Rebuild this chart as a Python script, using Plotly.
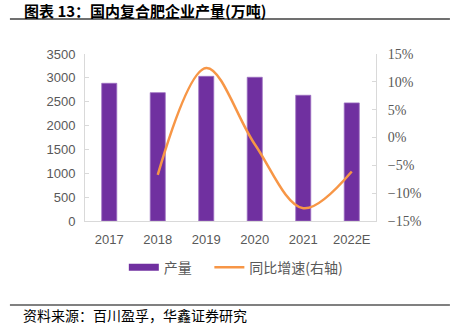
import plotly.graph_objects as go

years = ["2017", "2018", "2019", "2020", "2021", "2022E"]
output = [2886, 2690, 3032, 3012, 2635, 2475]
growth_years = ["2018", "2019", "2020", "2021", "2022E"]
growth = [-6.7, 12.5, -1.2, -12.7, -6.1]

bar_color = "#7030A0"
line_color = "#F79646"
tick_color = "#595959"
axis_color = "#D9D9D9"

fig = go.Figure()
fig.add_trace(go.Bar(
    x=years, y=output, name="产量", showlegend=False,
    marker=dict(color=bar_color, line=dict(color="#9C6FC0", width=0.8)),
    width=0.31, yaxis="y",
))
# legend proxy for bars (wide rectangle symbol)
fig.add_trace(go.Scatter(
    x=[None], y=[None], name="产量    ", mode="lines",
    line=dict(color=bar_color, width=7), yaxis="y",
))
fig.add_trace(go.Scatter(
    x=growth_years, y=growth, name="同比增速(右轴)", mode="lines",
    line=dict(color=line_color, width=2.5, shape="spline", smoothing=1.0),
    yaxis="y2",
))

fig.update_layout(
    width=450, height=325, autosize=False,
    margin=dict(l=85, r=74, t=54, b=104),
    paper_bgcolor="white", plot_bgcolor="white",
    showlegend=True,
    legend=dict(orientation="h", x=0.52, xanchor="center", y=-0.28, yanchor="middle",
                font=dict(family="Noto Sans CJK SC", size=14, color=tick_color),
                itemwidth=30, traceorder="normal"),
    xaxis=dict(type="category", showline=True, linecolor=axis_color, linewidth=1,
               ticks="", showgrid=False, ticklabelstandoff=6,
               tickfont=dict(family="Liberation Sans, Arial", size=13, color=tick_color)),
    yaxis=dict(range=[0, 3500], dtick=500, showline=True, linecolor=axis_color, linewidth=1,
               ticks="inside", ticklen=4, tickcolor=axis_color, showgrid=False, zeroline=False,
               ticklabelstandoff=6,
               tickfont=dict(family="Liberation Sans, Arial", size=13, color=tick_color)),
    yaxis2=dict(range=[-15, 15], dtick=5, overlaying="y", side="right", showline=True,
                linecolor=axis_color, linewidth=1, ticks="inside", ticklen=4, tickcolor=axis_color,
                showgrid=False, zeroline=False, ticksuffix="%", ticklabelstandoff=8,
                tickfont=dict(family="Liberation Serif, Times New Roman", size=14, color=tick_color)),
    bargap=0.69,
)

fig.add_annotation(text="<b>图表 13：国内复合肥企业产量(万吨)</b>", xref="paper", yref="paper",
                   x=-0.216, y=1.26, xanchor="left", yanchor="middle", showarrow=False,
                   font=dict(family="Noto Sans CJK SC", size=15, color="black"))
fig.add_annotation(text="资料来源：百川盈孚，华鑫证券研究", xref="paper", yref="paper",
                   x=-0.22, y=-0.56, xanchor="left", yanchor="middle", showarrow=False,
                   font=dict(family="Noto Sans CJK SC", size=14, color="black"))

# title underline and footer line (paper coords outside plot area)
fig.add_shape(type="line", xref="paper", yref="paper", x0=-0.258, x1=1.254,
              y0=1.21, y1=1.21, line=dict(color="#404040", width=1.5))
fig.add_shape(type="line", xref="paper", yref="paper", x0=-0.258, x1=1.254,
              y0=-0.503, y1=-0.503, line=dict(color="#808080", width=2))

fig.write_html("out.html")
